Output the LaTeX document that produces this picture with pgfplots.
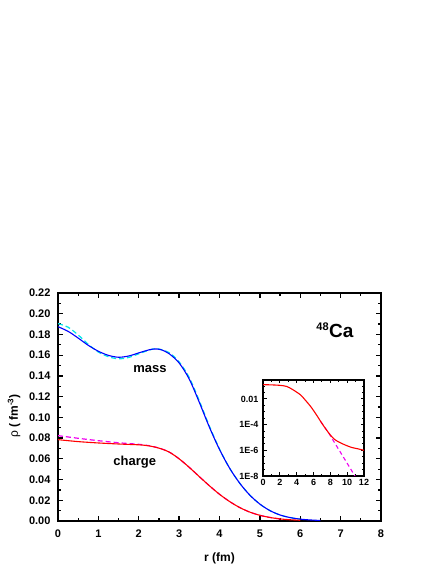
\documentclass[border=0pt]{standalone}
\usepackage{pgfplots}
\pgfplotsset{compat=1.18}
\usepackage{fontspec}
\setmainfont{Liberation Sans}

\definecolor{massblue}{RGB}{0,0,255}
\definecolor{chred}{RGB}{255,0,0}
\definecolor{dcyan}{RGB}{0,230,230}
\definecolor{dmag}{RGB}{240,0,240}

% main densities
\pgfplotstableread{
r rho
0.00 0.1875
0.25 0.1830
0.50 0.1765
0.75 0.1695
1.00 0.1638
1.25 0.1598
1.50 0.1580
1.75 0.1592
2.00 0.1622
2.25 0.1651
2.40 0.1660
2.55 0.1653
2.75 0.1615
3.00 0.1525
3.25 0.1370
3.50 0.1145
3.75 0.0905
4.00 0.0690
4.25 0.0510
4.50 0.0365
4.75 0.0250
5.00 0.0163
5.25 0.0100
5.50 0.0058
5.75 0.0033
6.00 0.0018
6.25 0.0010
6.50 0.0005
}\massdata

\pgfplotstableread{
r rho
0.00 0.1905
0.25 0.1870
0.50 0.1795
0.75 0.1705
1.00 0.1630
1.25 0.1585
1.50 0.1565
1.75 0.1578
2.00 0.1613
2.25 0.1648
2.45 0.1663
2.75 0.1625
3.00 0.1535
3.25 0.1385
3.50 0.1160
3.75 0.0915
4.00 0.0695
4.25 0.0510
4.50 0.0365
4.75 0.0250
5.00 0.0163
5.25 0.0100
5.50 0.0058
5.75 0.0033
6.00 0.0018
}\massfit

\pgfplotstableread{
r rho
0.00 0.0785
0.50 0.0766
1.00 0.0753
1.50 0.0743
2.00 0.0735
2.25 0.0725
2.50 0.0703
2.75 0.0666
3.00 0.0600
3.25 0.0518
3.50 0.0428
3.75 0.0340
4.00 0.0258
4.25 0.0188
4.50 0.0130
4.75 0.0086
5.00 0.0055
5.25 0.0034
5.50 0.0020
5.75 0.0012
6.00 0.0007
}\chargedata

\pgfplotstableread{
r rho
0.00 0.0824
0.50 0.0798
1.00 0.0775
1.50 0.0755
2.00 0.0740
2.25 0.0727
2.50 0.0704
2.75 0.0666
3.00 0.0600
3.25 0.0518
3.50 0.0428
3.75 0.0340
4.00 0.0258
4.25 0.0188
4.50 0.0130
4.75 0.0086
5.00 0.0055
5.25 0.0034
5.50 0.0020
}\chargefit

% inset (log scale)
\pgfplotstableread{
r rho
0.00 1.3e-1
1.00 1.25e-1
2.00 1.15e-1
2.80 9.5e-2
3.50 5.5e-2
4.45 2.1e-2
5.00 8.5e-3
5.66 2.6e-3
6.30 6.5e-4
6.87 1.7e-4
7.30 6.5e-5
7.68 2.9e-5
8.20 1.1e-5
8.69 5.8e-6
9.50 3.1e-6
10.50 1.7e-6
11.30 1.3e-6
12.00 1.0e-6
}\insetdata

\pgfplotstableread{
r rho
6.87 1.7e-4
7.30 6.5e-5
7.70 2.9e-5
8.30 6.5e-6
9.00 1.15e-6
10.00 9.8e-8
11.00 8.3e-9
11.50 2.5e-9
}\insetfit

\begin{document}
\begin{tikzpicture}[x=1pt,y=1pt]
\useasboundingbox (0,0) rectangle (436,564);
\begin{axis}[
  at={(58pt,43pt)}, anchor=south west, scale only axis,
  width=323pt, height=228pt,
  xmin=0, xmax=8, ymin=0, ymax=0.22,
  xtick={0,1,2,3,4,5,6,7,8}, minor x tick num=1,
  ytick={0,0.02,0.04,0.06,0.08,0.10,0.12,0.14,0.16,0.18,0.20,0.22},
  minor y tick num=1,
  tick align=inside,
  major tick length=5pt, minor tick length=3pt,
  axis line style={line width=1.5pt},
  every tick/.style={line width=1.3pt, black},
  ticklabel style={font=\fontsize{11}{13}\selectfont\bfseries},
  /pgf/number format/assume math mode=true,
  yticklabel style={/pgf/number format/fixed, /pgf/number format/fixed zerofill,
    /pgf/number format/precision=2, xshift=-4pt},
  xticklabel style={yshift=-5pt},
  xlabel={r (fm)},
  xlabel style={at={(axis description cs:0.5,-0.165)}, anchor=center,
    font=\fontsize{12}{14}\selectfont\bfseries},
  ylabel={ρ\textbf{ ( fm\textsuperscript{-3})}},
  ylabel style={at={(axis description cs:-0.136,0.46)}, anchor=center,
    font=\fontsize{12}{14}\selectfont},
]
\addplot[dcyan, line width=1.2pt, dash pattern=on 5pt off 3pt, smooth] table {\massfit};
\addplot[massblue, line width=1.1pt, smooth] table {\massdata};
\addplot[dmag, line width=1.2pt, dash pattern=on 5pt off 3pt, smooth] table {\chargefit};
\addplot[chred, line width=1.1pt, smooth] table {\chargedata};
\node[font=\fontsize{13}{15}\selectfont\bfseries] at (axis cs:2.28,0.147) {mass};
\node[font=\fontsize{13}{15}\selectfont\bfseries] at (axis cs:1.90,0.057) {charge};
\node[font=\fontsize{19}{21}\selectfont\bfseries] at (axis cs:6.86,0.184)
  {\textsuperscript{\fontsize{11}{13}\selectfont 48}Ca};
\end{axis}

\begin{axis}[
  at={(263pt,88pt)}, anchor=south west, scale only axis,
  width=101pt, height=96pt,
  xmin=0, xmax=12, ymin=1e-8, ymax=0.3,
  ymode=log,
  xtick={0,2,4,6,8,10,12}, minor x tick num=1,
  ytick={1e-2,1e-4,1e-6,1e-8},
  yticklabels={0.01,1E-4,1E-6,1E-8},
  minor ytick={1e-1,3.16e-2,3.16e-3,1e-3,3.16e-4,3.16e-5,1e-5,3.16e-6,3.16e-7,1e-7,3.16e-8},
  tick align=inside,
  major tick length=3.5pt, minor tick length=2pt,
  axis line style={line width=1.2pt},
  every tick/.style={line width=1pt, black},
  ticklabel style={font=\fontsize{9}{11}\selectfont\bfseries},
  /pgf/number format/assume math mode=true,
  yticklabel style={xshift=-1pt},
]
\addplot[dmag, line width=1.1pt, dash pattern=on 4pt off 3pt, smooth] table {\insetfit};
\addplot[chred, line width=1.1pt, smooth] table {\insetdata};
\end{axis}
\end{tikzpicture}
\end{document}
